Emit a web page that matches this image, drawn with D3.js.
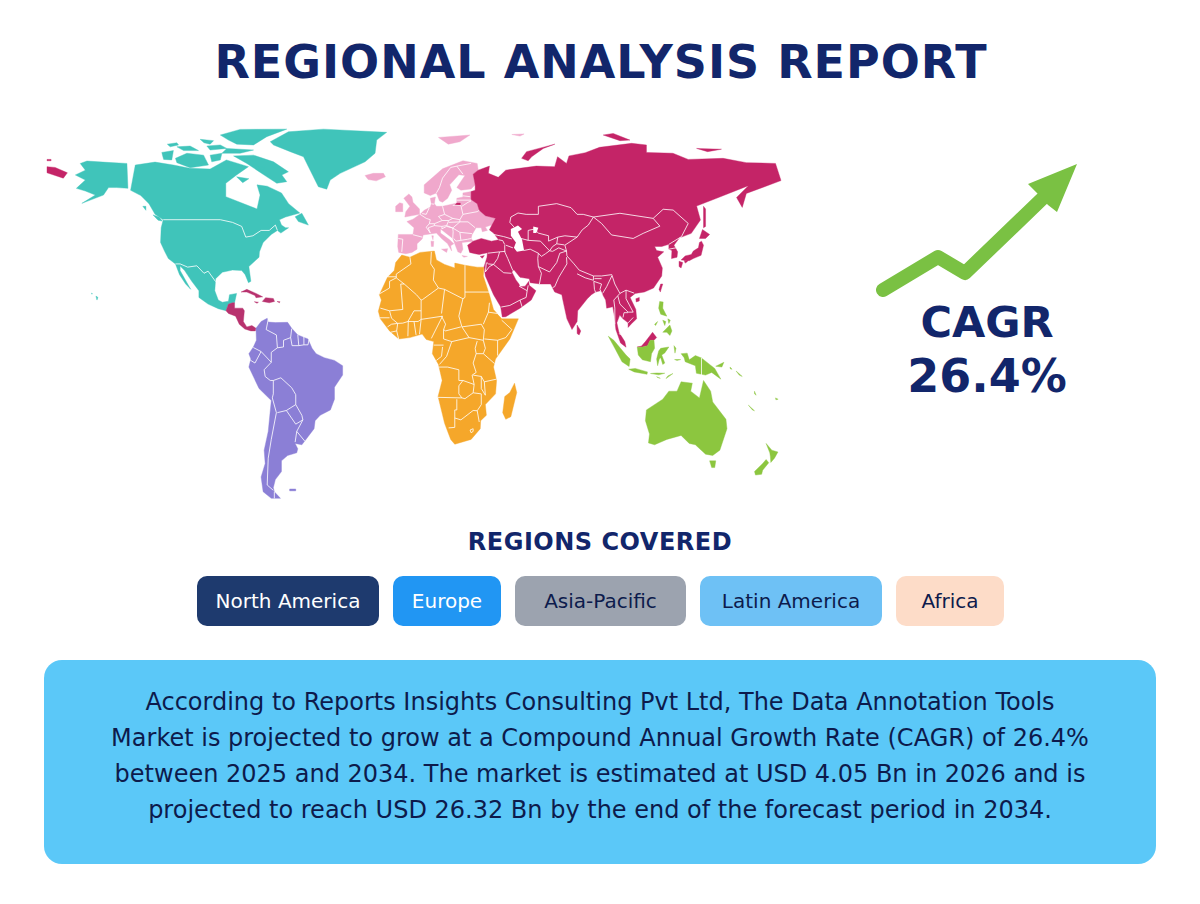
<!DOCTYPE html>
<html>
<head>
<meta charset="utf-8">
<title>Regional Analysis Report</title>
<script src="https://cdn.jsdelivr.net/npm/d3@7"></script>
<style>
  html, body { margin: 0; padding: 0; background: #fff; }
  svg { display: block; font-family: "DejaVu Sans", sans-serif; }
</style>
</head>
<body>
<div id="chart"></div>
<script>
// Land outlines and borders are [longitude, latitude]
const northAmericaLand = [
  [[-136.7,69.4],[-127,70.5],[-118,69.4],[-110,68.2],[-100,67.9],[-92,71.3],[-81.2,68.8],[-87,65.7],[-92.3,62.6],[-92.3,57.6],[-77,53],[-75.5,58.2],[-77,62],[-72,61.5],[-65,59],[-61.5,55],[-56,51.5],[-63,50],[-66,49],[-65,47],[-63,46],[-61.5,46],[-65.3,44],[-67,45],[-70,43.5],[-74,40.5],[-75.8,37],[-76,35],[-81,31.5],[-80,26],[-81.2,25.5],[-82.8,28.5],[-84.5,30],[-89,30.2],[-94,29.4],[-97.3,27],[-97.7,22.5],[-96,19],[-94,18.2],[-91,18.6],[-90.5,21],[-87,21.5],[-88,18],[-89,18],[-91,17.5],[-92.2,15],[-96,15.8],[-101,17.5],[-105.5,20],[-105.5,22.5],[-109,26],[-112.5,30],[-114.7,31.7],[-114.7,30],[-111,25],[-109.5,23],[-112,25],[-115,28.5],[-117,32.5],[-120.5,34.5],[-122.5,37.5],[-124.3,40.5],[-124,46],[-123,49],[-127,51],[-130,55],[-134,58],[-139,60]],
  [[-163.7,70],[-160.4,70.9],[-150.6,70.4],[-140.8,70],[-140.3,60.7],[-146,61],[-149.8,61],[-152.3,58.2],[-162.9,55.1],[-156.3,58.2],[-161.2,59.7],[-165.6,60.7],[-161.2,63.8],[-166.1,65.7],[-161.2,67.5]],
  [[-70.5,78.1],[-61.6,81.8],[-44.4,82.8],[-13.4,81.6],[-18.3,78.7],[-19.1,73.8],[-24,70.6],[-36.2,66.3],[-41.1,63.8],[-42.8,60.4],[-46.9,61.3],[-51.8,68.8],[-54.2,72.5],[-60.7,74.4],[-68.9,76.9]],
  [[-88.5,72.8],[-78.7,73.1],[-68.9,70.6],[-61.6,66.9],[-64.8,65.7],[-62.4,63.2],[-67.3,62.6],[-72.2,65],[-77.1,67.5],[-82,70]],
  [[-95,80.6],[-85.3,82.7],[-62.4,82.8],[-72.2,80],[-78.7,76.9],[-86.9,77.2],[-91,78.7]],
  [[-104.9,79],[-98.3,78.5],[-100,77.2],[-103,77.7]],
  [[-121,77.2],[-116.3,77.7],[-115.5,76.9],[-119.6,76.2]],
  [[-116.3,76.2],[-109.8,76.5],[-105.7,74.8],[-113,74.8]],
  [[-101.6,76.5],[-95,76.9],[-91.8,75.6],[-100,75]],
  [[-91.8,75.6],[-78.7,75],[-85.3,73.8],[-94.2,73.8]],
  [[-123.7,74.1],[-118,74.8],[-118.8,71.3],[-122.8,71.5]],
  [[-117,71.9],[-111.4,73.8],[-103.2,73.1],[-100.8,69.4],[-109.8,68.4],[-116.3,70.3]],
  [[-100,73.1],[-94.2,73.8],[-95,71.3],[-99.2,70.6]],
  [[-87,65],[-81,64.3],[-84,62.8]],
  [[-76.5,69],[-73,68.5],[-75,67.3]],
  [[-58.3,50.1],[-55,51.4],[-51.8,47],[-56.7,48.3]],
  [[-128,50.8],[-125,50],[-123.5,48.5],[-125.5,48.8]],
  [[-133,54],[-131.5,54],[-131.5,52.5]],
  [[-156,20.5],[-155,20],[-155.5,19]],
  [[-158.2,21.6],[-157.7,21.4],[-158,21.2]]
];

const northAmericaBorders = [
  [[-123,49],[-95,49],[-89,48],[-84.5,46.5],[-82.5,42.5],[-79,43],[-75,45],[-71,45],[-68,47],[-67,45]],
  [[-117,32.5],[-114.7,32.5],[-111,31.3],[-106.5,31.8],[-103,29],[-101,29.8],[-97.3,25.9]]
];

const caribbeanLand = [
  [[-92.2,15],[-91,17.5],[-89,18],[-88,18],[-88,16],[-84,16],[-83.2,15],[-83.7,11],[-82,9],[-79.5,9.5],[-77.5,8.5],[-77.8,7.5],[-80,7.5],[-83,8.2],[-85.7,10],[-87.5,13],[-91,14]],
  [[-84.8,22],[-82,23],[-77.5,21.5],[-74.2,20.2],[-77.5,19.9],[-78,20.7],[-82,22]],
  [[-74.4,18.5],[-72.8,19.9],[-69,19.6],[-68.4,18.5],[-71,18]],
  [[-78.3,18.4],[-76.3,18.2],[-77,17.8]],
  [[-67.2,18.5],[-65.7,18.4],[-66,18]]
];

const europeLand = [
  [[-7.7,43.5],[-0.5,43.5],[0,46],[-3.5,48.3],[-0.5,49.2],[3,51],[5,52.5],[8,53.7],[8.5,55],[8,57],[10.5,57.5],[10,55],[11,54],[14,54],[18.5,54.8],[21,55.2],[21,57],[24,57.5],[24,59],[28,59.5],[28,56.5],[31,55],[32,52.5],[35,50.5],[40,49.5],[38,47],[35,46.3],[36,45],[33.5,44.5],[33,46],[30.5,46],[28.5,43.5],[28,42],[29,41],[26,40.7],[23.5,40.5],[24,38],[23,36.5],[21.5,37],[19.5,41],[19,42],[14,45],[13,45.5],[13,44],[17.5,41.5],[19.5,40],[18,39.3],[18.5,37.3],[16.5,40],[13.5,42],[11,44],[8,43.7],[4.5,43.3],[4,41.8],[1.5,40],[1.5,38],[-1,36.8],[-4,36.3],[-7.5,36.8],[-8,39]],
  [[5,59],[5,62],[14,68],[24,71],[31,70],[31.5,67.5],[29,66],[30,62],[28,60.5],[23,60],[21,61],[25,65.5],[22,65.8],[17.5,62],[18.5,60],[16.5,57],[14,55.5],[12.5,56],[11,59],[8,58]],
  [[-4.5,50],[2.7,51],[2.7,53],[-0.5,55.5],[-1,57.5],[-2.5,58.6],[-5,57],[-2,54],[-4,52]],
  [[-9,52],[-5.5,52],[-5.5,55],[-7,55.3],[-9,54]],
  [[-24,65.5],[-20,66.3],[-15,66.3],[-14,65],[-18.5,63.5],[-22.5,64]],
  [[12,79.7],[27.4,80.6],[22.5,78.1],[16.8,77.2]],
  [[48,80.8],[54,81],[52,80.2]],
  [[13.5,38],[16.5,38.2],[16,36.8]],
  [[8.3,41],[9.7,41],[9.5,39],[8.5,39]],
  [[8.7,43],[9.5,43],[9.3,41.5]],
  [[23.5,35.6],[26.2,35.3],[24.5,35]]
];

const europeBorders = [
  [[-0.5,43.4],[4,42.5]],
  [[-7.7,42],[-5.5,41.7],[-6,37]],
  [[3,51],[6,49.5],[8,49],[7.5,47.5],[6,46.2],[8,44]],
  [[14,54],[15,51],[12,50.2],[13.8,48.7],[10,47.5],[7.5,47.5]],
  [[7.5,53.5],[6,51],[4,51.3]],
  [[8.6,54.9],[9.9,54.8]],
  [[19,54.4],[23,54.3],[24,51],[22.5,49],[19,49.5],[15,51]],
  [[8,44],[7,46],[10,46.8],[13.7,46.5],[13.7,45.6]],
  [[10,47.5],[10,46.8]],
  [[13.8,48.7],[17,48.7],[16,46.8],[13.7,46.5]],
  [[17,48.7],[19,49.5]],
  [[17,48],[22.5,48.2],[22.5,49]],
  [[16,46.8],[19,45.9],[22.5,48.2]],
  [[13.7,45.6],[16,46.5],[19,45.9],[19.2,44.5],[19,42]],
  [[19,45.9],[22.5,44.3],[23,41.3],[20.5,41],[19.5,42]],
  [[22.5,44.3],[28.5,43.8]],
  [[22.5,48.2],[26.5,48.2],[30,46]],
  [[23,41.3],[26.3,41.7],[28,42]],
  [[24,51],[31,52],[32,52.5]],
  [[23.5,54],[26.5,55.5],[28,56]],
  [[21,56.3],[28,56.3]],
  [[24,57.9],[27.5,57.6]],
  [[11,59],[12.5,61],[14,64.5],[18,68.5],[21,69]],
  [[24,66],[21,69],[28,70]]
];

const asiaLand = [
  [[130.5,42.5],[127.5,39.5],[129.3,37],[129,35],[126.3,34.5],[126.5,37.5],[125,38],[125,39.8],[121.5,39],[118,39],[119,37.5],[122.5,37],[119.5,35],[121.8,31],[121.5,28],[117.5,23.5],[113,22],[108.5,21.5],[106,20],[108.8,15.5],[109.2,12],[106.8,10.3],[105,8.8],[105,10.5],[102.5,12],[100.9,13.4],[99.5,10.5],[100.5,7],[103.4,3.5],[104,1.4],[101.3,3],[99,8],[98.3,13],[97.5,16.5],[94.5,16],[94,19],[91.5,22.5],[89,22],[87,21],[85,19.5],[80.3,15],[80,11],[77.5,8],[75,12],[73,19],[72.5,21],[69,22],[67,25],[62,25],[57,25.5],[56.5,27],[52,27.5],[49,30.3],[48,29.5],[50,26.5],[51.5,25],[52,24],[54.5,24.2],[56.3,26],[56.5,24.5],[59.8,22.5],[57.5,19],[52,16],[45,12.8],[43.3,12.7],[42.5,16.5],[39,21],[35,28],[34.7,29.5],[34.3,31.3],[35.8,35],[36,36.7],[32,36],[30,36.3],[27.3,36.8],[26.3,39.5],[29,41],[33,42],[38,41],[41.5,41.5],[39,44],[37,45.2],[38.2,47],[40,49.5],[35,50.5],[32,52.5],[31,55],[28,56.5],[28,59.5],[30,60],[30,62],[29,66],[31.5,67.5],[37,69],[36.5,66.3],[41.3,64.8],[45,67.5],[60,69],[69,68.8],[70.4,72.5],[74.8,70],[76,72.8],[84,74],[91,76],[106.7,77.5],[114,76.9],[114,74.1],[127,73.8],[134.5,71.5],[151.6,71.9],[163,70.3],[177.3,70],[180,63.6],[163,58.8],[161,53.6],[158.2,57.3],[164,61.7],[148.4,57],[138.6,54.1],[140.5,48.9],[136,43.9],[131.2,42.5]],
  [[-180,68.8],[-176,68.5],[-170,66.5],[-172,64.5],[-176,65.5],[-180,66.5]],
  [[-180,71.5],[-178,71.5],[-178,71],[-180,71]],
  [[52.8,71.9],[55.2,74.4],[69.1,77.2],[63.4,75.6],[57.7,72.5],[56,71]],
  [[92.8,80.6],[97.7,81.2],[105.9,78.7],[101,78.5]],
  [[138.6,75.6],[150.8,75.3],[144,74.4]],
  [[141,41],[142,39.5],[140.8,35.7],[137,34.5],[135,33.7],[131,34],[133,35.5],[136,36],[137,37.3],[139.5,38.5],[140,40.5]],
  [[140,42],[141.5,45.3],[145,43.5],[143,42]],
  [[130,33.5],[131.8,33],[131,31],[130,31.5]],
  [[132.5,33.8],[134.5,34],[134,33.3],[133,32.8]],
  [[142,54],[143,53],[143,49],[143,46.5],[142,46],[142,50]],
  [[108.8,19.5],[110.5,20],[110.5,18.7],[109,18.3]],
  [[121,25],[122,25],[120.8,22],[120.2,23]],
  [[80,9.7],[81.8,7.5],[81,6],[80,6.5]],
  [[109.5,1.5],[111.5,1.8],[113.5,3.5],[115.5,5.5],[117,7],[119,5],[117.7,4],[115.8,4],[114.5,2],[112,1.5]],
  [[32.5,35.3],[34.5,35.6],[33.5,34.6]],
  [[21,55.2],[22.7,55.2],[22.7,54.4],[20,54.4]]
];

const asiaBorders = [
  [[49,46.3],[47,48],[47.5,50],[51,51.5],[55,51],[61,51],[61,54],[70,55],[77,53.5],[80,51],[83,51],[88,50]],
  [[52.5,42],[56,41.3],[56,45],[59,45.5],[61,44],[66,43],[66,41],[70.5,42.5],[74,43],[80,42.5]],
  [[88,50],[85.5,47],[82.5,45.2],[80,42.5],[74,39.5],[74.8,37.3],[75,35.5],[78.5,32.5],[81,30.2],[88,28],[92,28],[97,28.5],[98.5,25],[101,21.5],[104,22.7],[108,21.6]],
  [[53.8,37.5],[57,38],[61,36.5],[62.5,35.3],[64.5,36.3],[66.5,37.4],[62,41],[56,41.3]],
  [[66.5,37.4],[68,37.2],[71,38.5],[74.8,37.3]],
  [[70,40],[73.8,39.6]],
  [[66.5,37.4],[68,39],[70,40],[70.5,42.5]],
  [[74.8,35],[75,32.5],[71,27.5],[69,24],[68,23.7]],
  [[61,36.5],[60.7,34.5],[61,31.5],[66.5,29.5],[70,33],[71.5,36.5],[74.8,37.3]],
  [[61,31.5],[62.5,29],[61.5,25]],
  [[80,28.8],[84,27.3],[88,26.4],[88,28]],
  [[88.2,26],[92,25],[91.2,23],[92.3,21]],
  [[88.2,26],[88.5,23],[89,22]],
  [[92,27],[88.5,27]],
  [[97,28],[94.5,24],[92.5,21.5]],
  [[101,21.5],[98,19],[98.5,16],[98.5,10]],
  [[100,20.5],[101,17.5],[105,14.5],[107.5,14.5],[104,19.5],[104,22.7]],
  [[102.5,12.5],[103,14.3],[105,14.3]],
  [[107.5,12.5],[105,10.5]],
  [[100.5,6.5],[102,6]],
  [[44.5,39.5],[44.5,37],[46,34.5],[48.5,30]],
  [[36.2,36.5],[42,37],[44.8,37.2]],
  [[41.5,41.5],[43.5,41.2],[44.5,39.7]],
  [[39,43.5],[44,42.7],[48,41.8]],
  [[45,39.5],[48.5,38.5]],
  [[42,37],[41,34.5],[39,32.3],[36.5,32.5],[35.8,33]],
  [[39,32.3],[37,31.5],[35,29.5]],
  [[39,32.3],[44,29.2],[47.8,29]],
  [[35,29.5],[35.5,33]],
  [[42.8,16.4],[47,17],[52,19],[55,20],[55.5,22.5],[56,24.5]],
  [[52,19],[53,16.5]],
  [[51.5,24.2],[55.5,22.5]],
  [[125,38],[128.5,38.5]],
  [[88,50],[101,51.4],[117.3,49.5],[120.6,46.6],[112.4,43.9],[107.5,42],[96.9,43.3],[92,47.6],[88,50]],
  [[117.3,49.5],[122.2,52.9],[127.1,52.6],[134.5,47.6],[131.2,42.7],[125,39.8]]
];

const africaLand = [
  [[-6,35.8],[-2,35],[3,36.8],[10,37.3],[11,34],[15,32.3],[20,31],[20,32.8],[25,32],[31,31.3],[34.3,31.3],[34,28],[37,21],[39,15.5],[43,12],[51.2,12],[47,4.5],[40,-3],[39,-6],[40.5,-11],[40,-16],[35,-20],[35.5,-24],[32.7,-26],[32.5,-29],[28,-33],[20,-34.8],[18,-33],[15,-27],[11.8,-17],[13.8,-11],[12,-5],[9,-1],[9.7,3.5],[6,4.3],[4,6.3],[-2,5],[-7.5,4.5],[-12,7.5],[-16.5,12],[-17.5,14.8],[-16,19],[-17,21],[-13,27.5],[-9.7,30],[-9,33]],
  [[49.3,-12],[50.4,-15.5],[47.5,-24.5],[45,-25.5],[43.5,-23],[44.5,-17],[47,-15.5]]
];

const africaBorders = [
  [[-2,35],[-1.5,32.5],[-8.7,28.7],[-8.7,27.3]],
  [[-8.7,27.7],[-13,27.7]],
  [[-8.7,27.3],[-12,26],[-12,23.5],[-17,21.3]],
  [[-8.7,27.3],[-4.8,25],[-6.5,25],[-5.5,15.5],[-12,15],[-16.5,16]],
  [[-4.8,25],[1.2,21],[3.5,19],[4.2,19.2],[12,23.5]],
  [[8.5,37],[8.2,32.5],[10,30.5],[9.5,26.5],[12,23.5],[15,23],[24,19.5]],
  [[25,32],[25,22],[37,22]],
  [[24,19.5],[25,20],[25,22]],
  [[24,19.5],[22,13],[23.5,9]],
  [[15,23],[13.5,14]],
  [[3.5,11.8],[14,13]],
  [[3.5,19],[3.5,11.8]],
  [[-12,15],[-11,12.2],[-8,10.3],[-5.5,10.4],[-3,11],[0,15],[3.5,15]],
  [[-3,11],[2,11],[3.5,11.8]],
  [[-3,5.5],[-2.8,11]],
  [[0,11],[1,6]],
  [[2.7,6.3],[3.5,11.8]],
  [[8.5,4.7],[14,13]],
  [[13.5,13],[15.5,10],[14.5,8],[15.5,7.5],[23,9]],
  [[14.5,8],[14.5,4.5],[18.5,3.5],[27,5]],
  [[23.5,9],[27,5],[34,4]],
  [[23.5,9],[33,10],[34.5,8],[34,4]],
  [[37,18],[36.5,14.5],[34,10]],
  [[36.5,14.5],[41,14],[43,12.5]],
  [[43,11.5],[48,8],[45,5],[41,4]],
  [[34.5,4.5],[41,4],[41,-1.7]],
  [[34,-1],[39.5,-4.7]],
  [[34,4],[35,1],[34,-1],[30.5,-1],[30,1],[31,3.7]],
  [[30.5,-1],[29,-4.5],[30.5,-8],[28.5,-9],[29.5,-12.5],[24,-11]],
  [[9.7,2.2],[14.5,2.2]],
  [[14,1.5],[13.5,-2],[11,-3.5]],
  [[18.5,3.5],[16,-2],[12.5,-5]],
  [[12.3,-6],[16.5,-6],[22,-7],[22,-11],[24,-11]],
  [[24,-11],[22,-13],[22,-16],[23.5,-17.5]],
  [[11.8,-17.3],[23.5,-17.5],[25,-17.8]],
  [[21,-18],[21,-22],[20,-22],[20,-28.5],[17,-28.7]],
  [[20,-25],[23,-25.7],[29,-22.2]],
  [[25,-17.8],[29,-15.6],[33,-16],[33,-20],[31,-22.3],[29,-22.2]],
  [[29.5,-12.5],[29,-15.6]],
  [[29,-9],[33,-9.5],[34.5,-11.5],[40.5,-10.5]],
  [[33,-9.5],[33,-14],[35,-16.5],[34.5,-11.5]],
  [[31,-22.3],[32,-26.5]],
  [[27.5,-29.5],[29,-29],[29,-30],[28,-30.5],[27.5,-29.5]],
  [[-8,10.3],[-8.5,7.5],[-7.5,4.4]],
  [[-11.5,7],[-8.5,7.5]],
  [[-13,9],[-11,10],[-8,10.3]],
  [[-16.7,12.4],[-12,12.4]]
];

const southAmericaLand = [
  [[-77.5,8.5],[-75,11],[-72,12.2],[-71.5,10.8],[-68,10.6],[-62,10.7],[-60,8.5],[-57,6],[-52,4.5],[-50,1],[-48,-1],[-44,-2.5],[-39,-3.5],[-35,-5.5],[-35,-9],[-39,-13.5],[-39,-18],[-41,-22],[-46,-24],[-48.5,-26],[-49,-29],[-53,-33],[-55,-35],[-58.3,-34.5],[-57,-36.5],[-57.5,-38],[-62,-39],[-65,-41],[-65,-45],[-68,-48],[-69,-51],[-68.5,-52.5],[-65.5,-55],[-70,-55],[-74,-52.5],[-75,-47],[-73,-42],[-73.5,-37],[-71.5,-30],[-70,-18.5],[-76,-14],[-81,-6],[-80,-3],[-81,-1],[-78.8,1.5],[-77.3,4]],
  [[-61,-51.5],[-58,-51.5],[-58,-52.2],[-61,-52.2]]
];

const southAmericaBorders = [
  [[-71.5,11.8],[-72.5,8],[-67.5,6],[-67,1.2],[-70,-0.5],[-70,-4.2]],
  [[-70,-4.2],[-75,-0.2],[-78.8,1.3]],
  [[-75,-0.2],[-78,-4.5],[-80.3,-3.4]],
  [[-67,1.2],[-64,1.5],[-64,4],[-60.5,5],[-60,8.3]],
  [[-60.5,5],[-59.8,2],[-56.5,2],[-54,2.3],[-52,2.3],[-51.5,4.2]],
  [[-57,6],[-56.5,2]],
  [[-54,5.7],[-54,2.3]],
  [[-70,-4.2],[-73.5,-7],[-73,-9.5],[-70.5,-11],[-69,-11]],
  [[-69,-11],[-65.3,-10],[-60,-13.7],[-58,-16.3],[-58,-20],[-62.6,-22.2],[-67,-23]],
  [[-69,-11],[-69,-16],[-69.5,-17.5]],
  [[-69.5,-17.5],[-67.5,-23],[-70,-33],[-71.5,-40],[-72,-50],[-69,-52]],
  [[-58,-20],[-55,-24],[-54.5,-25.7],[-58,-27.3],[-62.6,-22.2]],
  [[-54.5,-25.7],[-57.5,-30],[-53.5,-33.7]],
  [[-57.5,-30],[-58.3,-34]],
  [[-68.5,-52.5],[-68.5,-55]]
];

const oceaniaLand = [
  [[114,-22],[122,-18],[125,-15],[129,-15],[131,-11.5],[136.5,-12],[135.7,-15],[140,-17.5],[142,-11],[145.5,-15],[146.5,-19],[153,-25.5],[153.5,-29],[150,-37],[146.5,-39],[143,-38.5],[138,-35],[135,-34.5],[131,-31.5],[124,-33],[118,-35],[115,-34.3],[115.5,-31],[113.5,-26]],
  [[145,-41],[148,-41],[147.5,-43.5],[146,-43.5]],
  [[172.7,-34.5],[175.5,-37],[178.5,-37.7],[176.8,-40],[175,-41.6],[174.8,-39.5],[174.5,-38]],
  [[172.7,-40.5],[174,-41.7],[171,-44.5],[170.5,-46],[167.5,-46.3],[167,-45],[171,-42]],
  [[131,-1],[134,-0.8],[135,-3.3],[138,-1.7],[141,-2.6],[145,-5],[147.5,-6.5],[150.5,-10.5],[146,-8],[143,-9],[138.5,-8.3],[138,-5.5],[133,-4],[132.5,-2.5]],
  [[95.3,5.5],[98,4],[104,-1.5],[106,-3],[105.5,-5.8],[102,-4],[98.5,1]],
  [[105.3,-6.8],[108.5,-6.5],[114.5,-7.8],[114.3,-8.7],[108,-7.8]],
  [[109.5,1.4],[110,-1.5],[112,-3.3],[116,-4],[116.5,-1],[118,1],[117.7,4],[115.8,4],[114.5,2],[112,1.5]],
  [[119.5,-5.5],[120.3,-3],[121,-2.5],[122,-5],[123,-4.5],[121.5,-1.5],[123,-0.7],[125,1.5],[121,1],[120,0],[119,-3]],
  [[120.5,18.5],[122.2,18.3],[122,16],[124,13],[121,13.7],[120,16]],
  [[122,7],[125.5,9.7],[126.5,7.5],[125.5,5.8],[124,7]],
  [[118,10],[119.5,11],[118.5,9.5]],
  [[122,11.5],[123.5,11],[123,9.5]],
  [[124.5,12],[125.7,11.5],[125,10.3]],
  [[116,-8.4],[119,-8.2],[123,-8.3],[120,-8.9]],
  [[123.6,-10.3],[127,-8.4],[124.5,-9.3]],
  [[119,-9.6],[120.8,-10.2],[119.5,-9.9]],
  [[127.5,2],[128.5,1],[128,-0.8]],
  [[127.8,-3.2],[130.8,-3.2],[129,-3.5]],
  [[148,-5.7],[152,-4.2],[151,-6]],
  [[155,-6],[156,-6.8],[155.2,-6.7]],
  [[158,-7.5],[161,-9.5],[159.5,-9]],
  [[164,-20.2],[167,-22.3],[166,-22]],
  [[167,-15],[167.8,-16.5],[167,-16]],
  [[177.3,-17.5],[178.6,-18],[177.5,-18.2]]
];

const oceaniaBorders = [
  [[141,-2.6],[141,-9]]
];

const lakes = [
  [[47.5,45.5],[51,46.8],[53,45.5],[51,44.5],[53,41.5],[54,37.5],[50.5,37],[49,38.5],[50,40.5],[47.5,43]],
  [[58.5,46.5],[61,46],[60,44],[58.5,44]]
];

const regionLabels = ["North America", "Europe", "Asia-Pacific", "Latin America", "Africa"];
const pillColors = ["#1E3A6E", "#2196F3", "#9CA3AF", "#6EC1F5", "#FDDCC8"];
const pillTextColors = ["#FFFFFF", "#FFFFFF", "#0D1B4C", "#0D1B4C", "#0D1B4C"];

const cagrLines = ["CAGR", "26.4%"];

const summaryLines = [
  "According to Reports Insights Consulting Pvt Ltd, The Data Annotation Tools",
  "Market is projected to grow at a Compound Annual Growth Rate (CAGR) of 26.4%",
  "between 2025 and 2034. The market is estimated at USD 4.05 Bn in 2026 and is",
  "projected to reach USD 26.32 Bn by the end of the forecast period in 2034."
];

const navy = "#12266B";
const width = 1200, height = 904;

const svg = d3.select("#chart").append("svg")
  .attr("width", width)
  .attr("height", height);

svg.append("text")
  .attr("x", 601)
  .attr("y", 78)
  .attr("text-anchor", "middle")
  .attr("font-size", 46)
  .attr("font-weight", 700)
  .attr("letter-spacing", 1)
  .attr("fill", navy)
  .text("REGIONAL ANALYSIS REPORT");

// The map is stretched vertically, so each axis gets its own scale
const lonScale = d3.scaleLinear().domain([-180, 180]).range([47, 781]);
const latScale = d3.scaleLinear().domain([0, 83]).range([351, 128.6]);

const ring = d3.line()
  .x(d => lonScale(d[0]))
  .y(d => latScale(d[1]))
  .curve(d3.curveLinearClosed);

const borderLine = d3.line()
  .x(d => lonScale(d[0]))
  .y(d => latScale(d[1]));

const regions = [
  { land: northAmericaLand, borders: northAmericaBorders, color: "#40C4BA" },
  { land: europeLand, borders: europeBorders, color: "#F0A8CC" },
  { land: asiaLand, borders: asiaBorders, color: "#C42467" },
  { land: caribbeanLand, borders: [], color: "#B8326E" },
  { land: africaLand, borders: africaBorders, color: "#F5A72A" },
  { land: southAmericaLand, borders: southAmericaBorders, color: "#8B7FD6" },
  { land: oceaniaLand, borders: oceaniaBorders, color: "#8CC63F" }
];

const map = svg.append("g").attr("class", "map");

regions.forEach(region => {
  map.append("g")
    .selectAll("path")
    .data(region.land)
    .join("path")
    .attr("d", ring)
    .attr("fill", region.color)
    .attr("stroke", region.color)
    .attr("stroke-width", 0.4);
});

map.append("g")
  .selectAll("path")
  .data(lakes)
  .join("path")
  .attr("d", ring)
  .attr("fill", "#fff");

regions.forEach(region => {
  map.append("g")
    .selectAll("path")
    .data(region.borders)
    .join("path")
    .attr("d", borderLine)
    .attr("fill", "none")
    .attr("stroke", "#fff")
    .attr("stroke-width", 0.9)
    .attr("stroke-linejoin", "round")
    .attr("opacity", 0.9);
});

// growth arrow
const arrowLine = d3.line();
svg.append("path")
  .attr("d", arrowLine([[883, 290], [938, 257], [965, 273], [1044, 197]]))
  .attr("fill", "none")
  .attr("stroke", "#7AC143")
  .attr("stroke-width", 14)
  .attr("stroke-linecap", "round")
  .attr("stroke-linejoin", "round");
svg.append("path")
  .attr("d", arrowLine([[1077, 164], [1028, 184], [1037, 193], [1048, 205], [1057, 212]]) + "Z")
  .attr("fill", "#7AC143");

svg.selectAll("text.cagr")
  .data(cagrLines)
  .join("text")
  .attr("class", "cagr")
  .attr("x", 987)
  .attr("y", (d, i) => 337 + i * 55)
  .attr("text-anchor", "middle")
  .attr("font-size", (d, i) => i ? 46 : 43)
  .attr("font-weight", 700)
  .attr("fill", navy)
  .text(d => d);

svg.append("text")
  .attr("x", 600)
  .attr("y", 550)
  .attr("text-anchor", "middle")
  .attr("font-size", 24)
  .attr("font-weight", 700)
  .attr("letter-spacing", 0.5)
  .attr("fill", navy)
  .text("REGIONS COVERED");

// pill row, left to right with a fixed gap
const pillWidths = [182, 108, 171, 182, 108];
const pillGap = 14, pillLeft = 197, pillTop = 576, pillHeight = 50;
const pillX = i => pillLeft + d3.sum(pillWidths.slice(0, i)) + i * pillGap;

const pills = svg.append("g").selectAll("g")
  .data(regionLabels)
  .join("g");

pills.append("rect")
  .attr("x", (d, i) => pillX(i))
  .attr("y", pillTop)
  .attr("width", (d, i) => pillWidths[i])
  .attr("height", pillHeight)
  .attr("rx", 10)
  .attr("fill", (d, i) => pillColors[i]);

pills.append("text")
  .attr("x", (d, i) => pillX(i) + pillWidths[i] / 2)
  .attr("y", pillTop + pillHeight / 2)
  .attr("dy", "0.35em")
  .attr("text-anchor", "middle")
  .attr("font-size", 20)
  .attr("fill", (d, i) => pillTextColors[i])
  .text(d => d);

svg.append("rect")
  .attr("x", 44)
  .attr("y", 660)
  .attr("width", 1112)
  .attr("height", 204)
  .attr("rx", 18)
  .attr("fill", "#5BC8F8");

svg.selectAll("text.summary")
  .data(summaryLines)
  .join("text")
  .attr("class", "summary")
  .attr("x", 600)
  .attr("y", (d, i) => 710 + i * 36)
  .attr("text-anchor", "middle")
  .attr("font-size", 24)
  .attr("fill", "#0D1B4C")
  .text(d => d);
</script>
</body>
</html>
